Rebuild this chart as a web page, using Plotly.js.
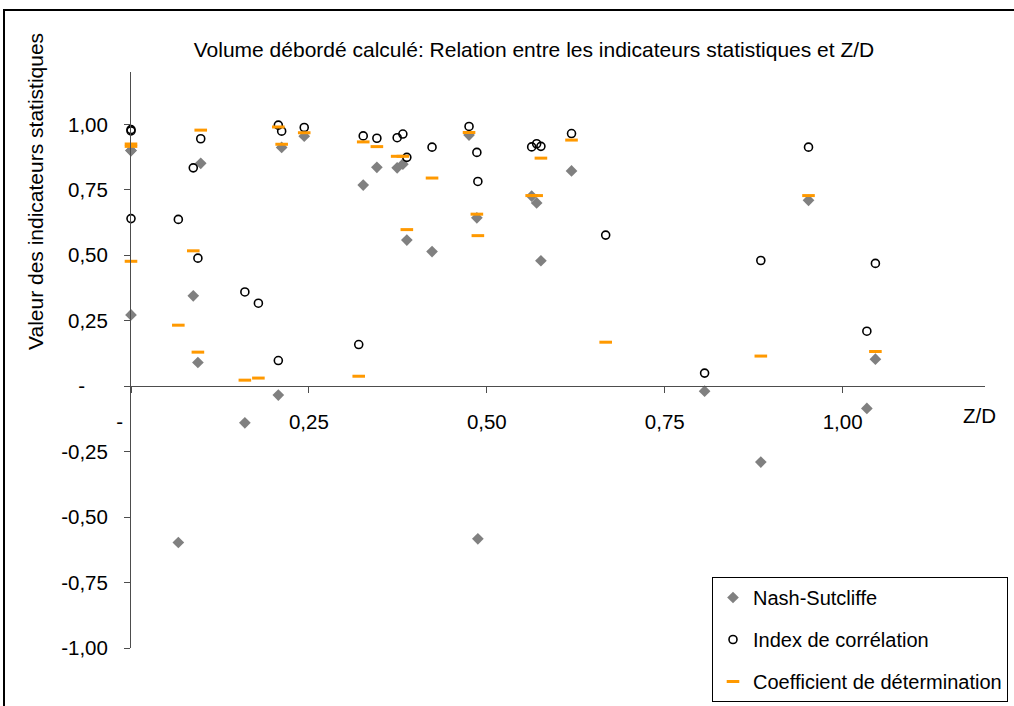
<!DOCTYPE html>
<html>
<head>
<meta charset="utf-8">
<script src="https://cdn.plot.ly/plotly-3.0.1.min.js"></script>
<style>html,body{margin:0;padding:0;background:#fff;}#chart{width:1014px;height:706px;}</style>
</head>
<body>
<div id="chart"></div>
<script>
// Z/D values (shared abscissa)
var zd = [0, 0, 0, 0.0665, 0.0875, 0.094, 0.098, 0.160, 0.179, 0.207, 0.207, 0.2117, 0.2434,
          0.320, 0.3263, 0.3455, 0.374, 0.382, 0.3876, 0.423, 0.475, 0.486, 0.4874,
          0.563, 0.570, 0.576, 0.619, 0.667, 0.806, 0.885, 0.952, 1.034, 1.046];
// Nash-Sutcliffe
var nashSutcliffe = [0.90, 0.90, 0.272, -0.597, 0.345, 0.0905, 0.851, -0.140, null, -0.034, null, 0.912, 0.955,
                     null, 0.768, 0.836, 0.834, 0.848, 0.558, 0.514, 0.959, 0.643, -0.583,
                     0.726, 0.700, 0.479, 0.822, null, -0.019, -0.290, 0.710, -0.085, 0.103];
// Index de corrélation
var indexCorrelation = [0.98, 0.975, 0.640, 0.637, 0.834, 0.489, 0.945, 0.360, 0.317, 0.098, 0.997, 0.974, 0.988,
                        0.159, 0.956, 0.947, 0.949, 0.963, 0.874, 0.913, 0.992, 0.893, 0.782,
                        0.914, 0.926, 0.916, 0.965, 0.577, 0.050, 0.480, 0.913, 0.210, 0.469];
// Coefficient de détermination
var coefDetermination = [0.925, 0.916, 0.477, 0.233, 0.517, 0.130, 0.978, 0.023, 0.031, null, 0.990, 0.924, 0.968,
                         0.038, 0.933, 0.915, 0.878, 0.878, 0.598, 0.795, 0.969, 0.657, 0.575,
                         0.728, 0.728, 0.871, 0.940, 0.168, null, 0.115, 0.728, null, 0.1325];

var seriesNames = ["Nash-Sutcliffe", "Index de corrélation", "Coefficient de détermination"];
var xTickVals = [0, 0.25, 0.5, 0.75, 1];
var xTickText = ["-\u00a0\u00a0\u00a0\u00a0", "0,25", "0,50", "0,75", "1,00"];
var yTickVals = [-1, -0.75, -0.5, -0.25, 0, 0.25, 0.5, 0.75, 1];
var yTickText = ["-1,00", "-0,75", "-0,50", "-0,25", "-\u00a0\u00a0\u00a0\u00a0", "0,25", "0,50", "0,75", "1,00"];

var FONT = "Liberation Sans, Arial, sans-serif";
var AXC = "#4d4d4d";

var traces = [
  {x: zd, y: nashSutcliffe, name: seriesNames[0], type: "scatter", mode: "markers", legendgroup: "a",
   cliponaxis: false,
   marker: {symbol: "diamond", size: 9, color: "#808080"}},
  {x: zd, y: indexCorrelation, name: seriesNames[1], type: "scatter", mode: "markers", legendgroup: "b",
   cliponaxis: false,
   marker: {symbol: "circle-open", size: 8, color: "#000000", line: {color: "#000000", width: 1.6}}},
  {x: zd, y: coefDetermination, name: seriesNames[2], type: "scatter", mode: "markers", legendgroup: "c",
   cliponaxis: false,
   marker: {symbol: "line-ew", size: 9, color: "#FF9900", line: {color: "#FF9900", width: 3}}}
];

var L = 131, R = 29, T = 72, B = 58, W = 1014, H = 706;
var pw = W - L - R, ph = H - T - B;
function px2x(p) { return (p - L) / pw; }
function py2y(p) { return (H - B - p) / ph; }

var layout = {
  width: W, height: H,
  margin: {l: L, r: R, t: T, b: B, autoexpand: false},
  paper_bgcolor: "#ffffff", plot_bgcolor: "#ffffff",
  font: {family: FONT, size: 20.5, color: "#000000"},
  title: {text: "Volume débordé calculé: Relation entre les indicateurs statistiques et Z/D",
          font: {family: FONT, size: 21, color: "#000000"},
          xref: "container", yref: "container", x: 534 / W, xanchor: "center",
          y: 1 - 50 / H, yanchor: "middle"},
  xaxis: {range: [0, 1.2], anchor: "free", position: 1 / 2.2, automargin: false,
          showline: true, linecolor: AXC, linewidth: 1,
          showgrid: false, zeroline: false,
          ticks: "outside", ticklen: 6, tickcolor: AXC, tickwidth: 1,
          tickvals: xTickVals, ticktext: xTickText, ticklabelstandoff: 11,
          tickfont: {family: FONT, size: 20.5, color: "#000000"}},
  yaxis: {range: [-1, 1.2], anchor: "x", automargin: false,
          showline: true, linecolor: AXC, linewidth: 1,
          showgrid: false, zeroline: false,
          ticks: "outside", ticklen: 6, tickcolor: AXC, tickwidth: 1,
          tickvals: yTickVals, ticktext: yTickText, ticklabelstandoff: 12,
          tickfont: {family: FONT, size: 20.5, color: "#000000"}},
  showlegend: true,
  legend: {x: px2x(712), y: py2y(577), xanchor: "left", yanchor: "top",
           bordercolor: "#000000", borderwidth: 1, bgcolor: "#ffffff",
           traceorder: "grouped", tracegroupgap: 13,
           font: {family: FONT, size: 20, color: "#000000"}},
  annotations: [
    {text: "Valeur des indicateurs statistiques", xref: "paper", yref: "paper",
     x: px2x(35), y: py2y(192), xanchor: "center", yanchor: "middle", textangle: -90,
     showarrow: false, font: {family: FONT, size: 21, color: "#000000"}},
    {text: "Z/D", xref: "paper", yref: "paper", x: px2x(979), y: py2y(415),
     xanchor: "center", yanchor: "middle", showarrow: false,
     font: {family: FONT, size: 20.5, color: "#000000"}}
  ],
  shapes: [
    {type: "rect", xref: "paper", yref: "paper", x0: px2x(4), y0: py2y(720), x1: px2x(1030), y1: py2y(10),
     line: {color: "#000000", width: 2}, fillcolor: "rgba(0,0,0,0)", layer: "below"}
  ]
};

Plotly.newPlot("chart", traces, layout, {displayModeBar: false, staticPlot: true});
</script>
</body>
</html>
